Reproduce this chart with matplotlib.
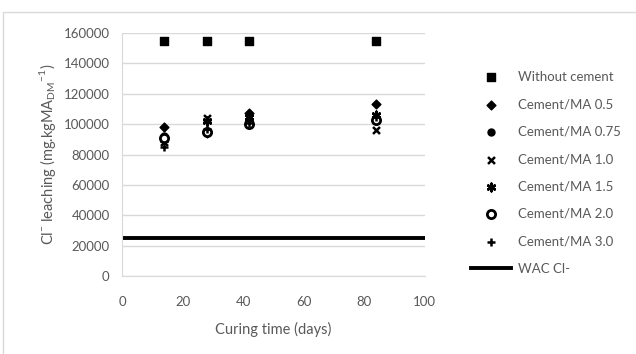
import matplotlib
matplotlib.use("Agg")
import matplotlib.pyplot as plt
from matplotlib.patches import Rectangle

plt.rcParams['font.family'] = ['Lato', 'DejaVu Sans']

# Data
days = [14, 28, 42, 84]
no_cement = [155000, 155000, 155000, 155000]
ratio_05 = [98000, 94000, 107000, 113000]
ratio_075 = [92000, 95000, 103000, 104000]
ratio_10 = [88000, 104000, 104000, 96000]
ratio_15 = [90000, 102000, 105000, 106000]
ratio_20 = [91000, 95000, 100000, 103000]
ratio_30 = [85000, 97000, 101000, 105000]
wac_limit = 25000
wac_x = [0, 100]

grey = '#595959'

fig = plt.figure(figsize=(6.36, 3.54), dpi=100)
ax = fig.add_axes([0.192, 0.22, 0.476, 0.687])

# outer chart border (only top and left visible)
fig.patches.append(Rectangle((3 / 636, -0.2), 1.2, 1.2 - 12 / 354,
                             transform=fig.transFigure, fill=False,
                             edgecolor='#d9d9d9', linewidth=1))

ax.scatter(days, no_cement, marker='s', s=28, color='black', label='Without cement', zorder=3)
ax.scatter(days, ratio_05, marker='D', s=20, color='black', label='Cement/MA 0.5', zorder=3)
ax.scatter(days, ratio_075, marker='o', s=25, color='black', label='Cement/MA 0.75', zorder=3)
ax.scatter(days, ratio_10, marker='x', s=25, color='black', linewidths=1.8, label='Cement/MA 1.0', zorder=3)
ax.scatter(days, ratio_15, marker=(6, 2, 0), s=30, color='black', linewidths=1.8, label='Cement/MA 1.5', zorder=3)
ax.scatter(days, ratio_20, marker='o', s=35, facecolors='white', edgecolors='black',
           linewidths=2, label='Cement/MA 2.0', zorder=3)
ax.scatter(days, ratio_30, marker='+', s=40, color='black', linewidths=1.8, label='Cement/MA 3.0', zorder=3)
ax.plot(wac_x, [wac_limit, wac_limit], color='black', linewidth=2.8, label='WAC Cl-', zorder=2)

ax.set_xlim(0, 100)
ax.set_ylim(0, 160000)
ax.set_xticks(range(0, 101, 20))
ax.set_yticks(range(0, 160001, 20000))
ax.yaxis.grid(True, color='#d9d9d9', linewidth=1)
ax.set_axisbelow(True)
ax.tick_params(length=0, labelsize=9.5, labelcolor=grey)
ax.tick_params(axis='x', pad=14)
ax.tick_params(axis='y', pad=9)
for s in ['top', 'right']:
    ax.spines[s].set_visible(False)
for s in ['left', 'bottom']:
    ax.spines[s].set_color('#d9d9d9')

ax.set_xlabel('Curing time (days)', fontsize=10.5, color=grey, labelpad=10)
ax.set_ylabel('Cl$^\\mathregular{-}$ leaching (mg.kgMA$_\\mathregular{DM}$$^\\mathregular{-1}$)',
              fontsize=10.5, color=grey, labelpad=4)

leg = fig.legend(loc='upper left', bbox_to_anchor=(0.733, 0.815), frameon=False,
                 fontsize=9.5, labelcolor=grey, handlelength=3, handletextpad=0.5,
                 labelspacing=1.17, borderaxespad=0)

fig.savefig('out.png', dpi=100)
